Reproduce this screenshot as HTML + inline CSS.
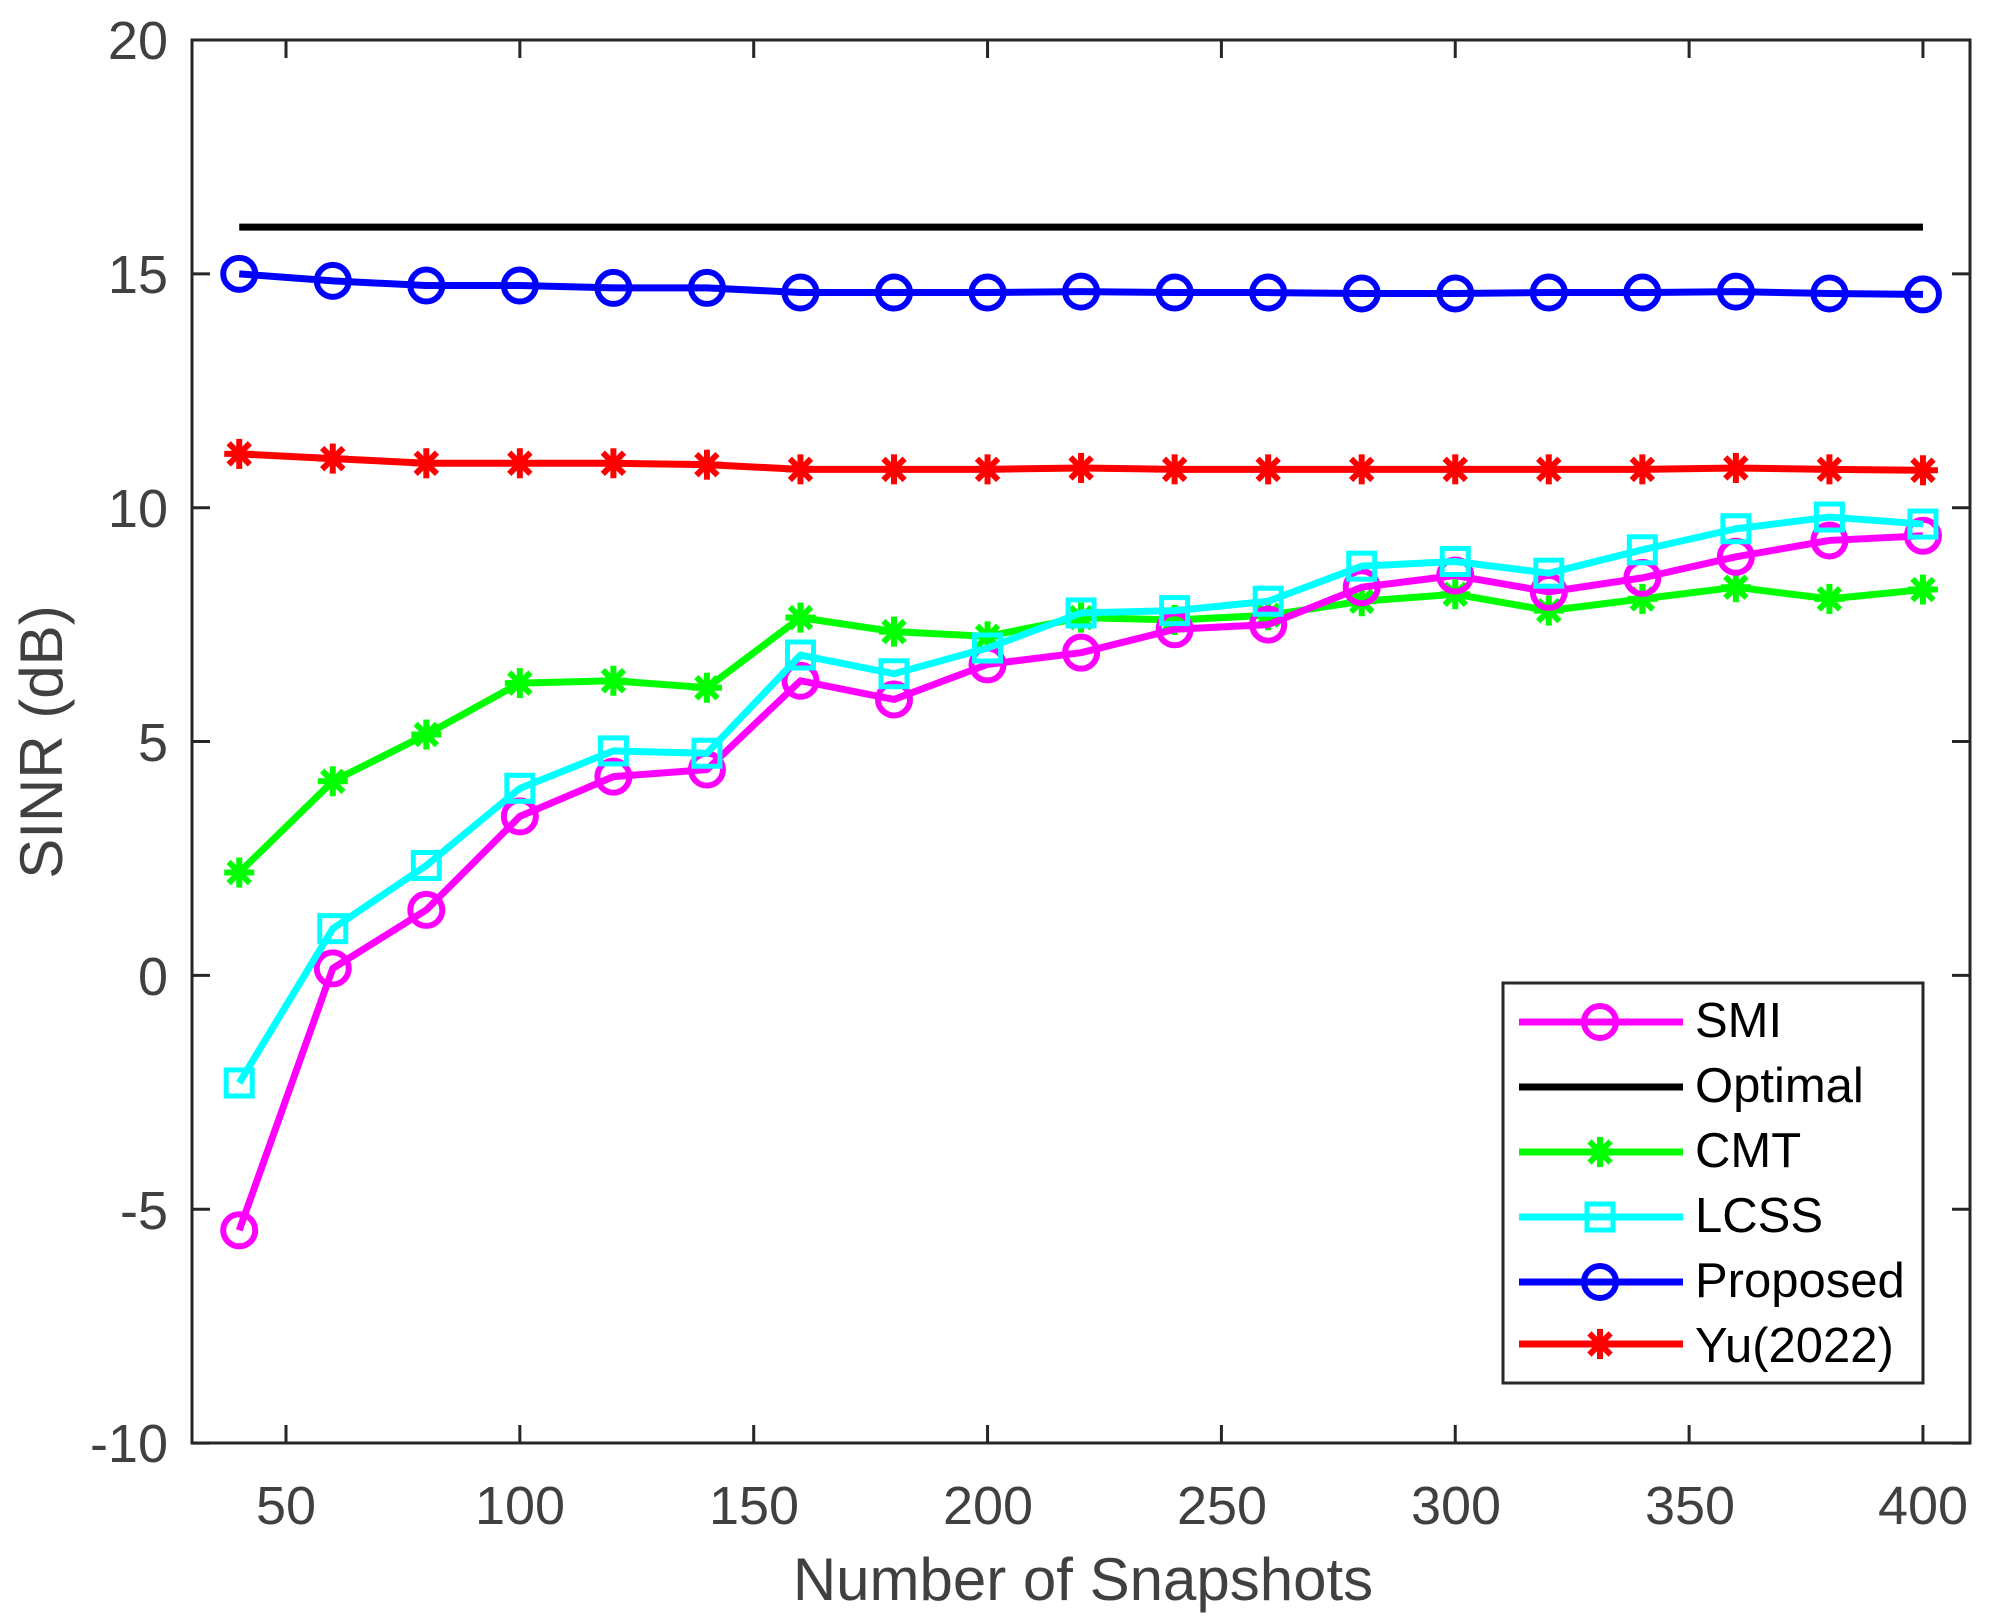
<!DOCTYPE html>
<html><head><meta charset="utf-8"><style>body{margin:0;background:#fff}svg{display:block}</style></head>
<body>
<svg id="s" width="1997" height="1620" xmlns="http://www.w3.org/2000/svg" font-family="Liberation Sans, Arial, sans-serif">
<rect width="1997" height="1620" fill="#fff"/>
<g id="ticks" stroke="#262626" stroke-width="3"></g>
<g id="data"></g>
<rect x="192" y="40" width="1778" height="1403" fill="none" stroke="#262626" stroke-width="3"/>
<g fill="#404040" font-size="54" text-anchor="end">
<text x="168" y="59">20</text><text x="168" y="293">15</text><text x="168" y="527">10</text>
<text x="168" y="761">5</text><text x="168" y="995">0</text><text x="168" y="1229">-5</text><text x="168" y="1462">-10</text>
</g>
<g fill="#404040" font-size="54" text-anchor="middle">
<text x="286" y="1524">50</text><text x="520" y="1524">100</text><text x="754" y="1524">150</text>
<text x="988" y="1524">200</text><text x="1222" y="1524">250</text><text x="1456" y="1524">300</text>
<text x="1690" y="1524">350</text><text x="1923" y="1524">400</text>
</g>
<text x="1083" y="1600" fill="#404040" font-size="60" text-anchor="middle">Number of Snapshots</text>
<text transform="translate(62,742) rotate(-90)" fill="#404040" font-size="60" text-anchor="middle">SINR (dB)</text>
<rect x="1503" y="983" width="420" height="400" fill="#fff" stroke="#262626" stroke-width="3"/>
<g id="leg"></g>
<g font-size="49" fill="#000">
<text x="1695" y="1037">SMI</text><text x="1695" y="1102">Optimal</text><text x="1695" y="1167">CMT</text>
<text x="1695" y="1232">LCSS</text><text x="1695" y="1297">Proposed</text><text x="1695" y="1362">Yu(2022)</text>
</g>
</svg>
<script>
const NS="http://www.w3.org/2000/svg";
const X=v=>286+(v-50)*4.677, Y=v=>40+(20-v)*46.77;
function el(p,t,a){const e=document.createElementNS(NS,t);for(const k in a)e.setAttribute(k,a[k]);p.appendChild(e);return e;}
const T=document.getElementById('ticks');
for(let v=50;v<=400;v+=50){el(T,'line',{x1:X(v),x2:X(v),y1:1443,y2:1425});el(T,'line',{x1:X(v),x2:X(v),y1:40,y2:58});}
for(let v=-10;v<=20;v+=5){el(T,'line',{x1:192,x2:210,y1:Y(v),y2:Y(v)});el(T,'line',{x1:1970,x2:1952,y1:Y(v),y2:Y(v)});}
const xs=[];for(let v=40;v<=400;v+=20)xs.push(v);
function marker(g,m,x,y,c){
 if(m=='o')el(g,'circle',{cx:x,cy:y,r:16,fill:'none',stroke:c,'stroke-width':6});
 else if(m=='s')el(g,'rect',{x:x-13,y:y-13,width:26,height:26,fill:'none',stroke:c,'stroke-width':5});
 else if(m=='*'){for(let a=0;a<180;a+=45){const r=a*Math.PI/180,dx=15*Math.cos(r),dy=15*Math.sin(r);el(g,'line',{x1:x-dx,y1:y-dy,x2:x+dx,y2:y+dy,stroke:c,'stroke-width':6});}}
}
const S=[
['#00ff00','*',[2.2,4.15,5.15,6.25,6.3,6.15,7.65,7.35,7.25,7.65,7.6,7.7,8.0,8.15,7.8,8.05,8.3,8.05,8.25]],
['#ff00ff','o',[-5.45,0.15,1.4,3.4,4.25,4.4,6.3,5.9,6.65,6.9,7.4,7.5,8.3,8.55,8.2,8.5,8.95,9.3,9.4]],
['#00ffff','s',[-2.3,1.0,2.35,4.0,4.8,4.75,6.85,6.45,7.0,7.75,7.8,8.0,8.75,8.85,8.6,9.1,9.55,9.8,9.65]],
['#0000ff','o',[15.0,14.85,14.75,14.75,14.7,14.7,14.6,14.6,14.6,14.62,14.6,14.6,14.58,14.58,14.6,14.6,14.62,14.58,14.56]],
['#ff0000','*',[11.15,11.05,10.95,10.95,10.95,10.92,10.82,10.82,10.82,10.85,10.82,10.82,10.82,10.82,10.82,10.82,10.85,10.82,10.8]],
['#000000','',xs.map(()=>16)]];
const D=document.getElementById('data');
S.forEach(([c,m,d])=>{const g=el(D,'g',{});el(g,'polyline',{points:d.map((v,i)=>X(xs[i])+','+Y(v)).join(' '),fill:'none',stroke:c,'stroke-width':7,'stroke-linejoin':'round'});if(m)d.forEach((v,i)=>marker(g,m,X(xs[i]),Y(v),c));});
const L=document.getElementById('leg');
[['#ff00ff','o',1022],['#000000','',1087],['#00ff00','*',1152],['#00ffff','s',1217],['#0000ff','o',1282],['#ff0000','*',1344]].forEach(([c,m,y])=>{el(L,'line',{x1:1519,x2:1683,y1:y,y2:y,stroke:c,'stroke-width':7});if(m)marker(L,m,1600,y,c);});
</script>
</body></html>
